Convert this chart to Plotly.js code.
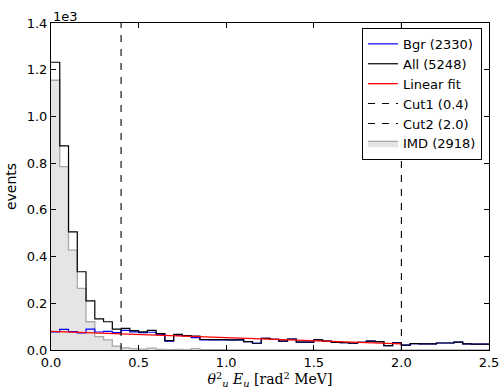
<!DOCTYPE html>
<html>
<head>
<meta charset="utf-8">
<script src="https://cdn.plot.ly/plotly-3.0.1.min.js"></script>
<style>html,body{margin:0;padding:0;background:#fff;}#chart{width:501px;height:391px;}</style>
</head>
<body>
<div id="chart"></div>
<script>
// Histogram settings (bin start and width, in x units)
const binStart = 0.0;
const binWidth = 0.05;

// Counts per bin (50 bins, 0.0 - 2.5)
const imdCounts = [1155, 785, 428, 264, 121, 57, 43, 17, 9, 6,
                   4, 8, 3, 2, 3, 2, 6, 2, 1, 1,
                   0, 0, 0, 0, 0, 0, 0, 0, 0, 0,
                   0, 0, 0, 0, 0, 0, 0, 0, 0, 0,
                   0, 0, 0, 0, 0, 0, 0, 0, 0, 0];
const bgrCounts = [78, 88, 79, 73, 89, 77, 80, 74, 84, 78,
                   74, 76, 67, 38, 64, 60, 53, 43, 43, 43,
                   43, 43, 36, 29, 50, 46, 38, 47, 34, 34,
                   43, 38, 33, 32, 29, 33, 38, 36, 19, 31,
                   21, 27, 26, 26, 30, 30, 34, 26, 25, 25];
const allCounts = [1232, 874, 506, 335, 210, 133, 121, 89, 93, 83,
                   78, 84, 70, 40, 67, 62, 59, 45, 44, 44,
                   43, 43, 36, 29, 50, 46, 38, 47, 34, 34,
                   43, 38, 33, 32, 29, 33, 38, 36, 19, 31,
                   21, 27, 26, 26, 30, 30, 34, 26, 25, 25];

// Linear fit end points
const fitX = [0.0, 2.0];
const fitY = [80, 26];

// Cuts
const cut1 = 0.4;
const cut2 = 2.0;

// Legend labels
const labels = {bgr: 'Bgr (2330)', all: 'All (5248)', fit: 'Linear fit',
                cut1: 'Cut1 (0.4)', cut2: 'Cut2 (2.0)', imd: 'IMD (2918)'};

// Axis ticks
const xTickVals = [0, 0.5, 1.0, 1.5, 2.0, 2.5];
const xTickText = ['0.0', '0.5', '1.0', '1.5', '2.0', '2.5'];
const yTickVals = [0, 200, 400, 600, 800, 1000, 1200, 1400];
const yTickText = ['0.0', '0.2', '0.4', '0.6', '0.8', '1.0', '1.2', '1.4'];

function edges(n) { const e = []; for (let i = 0; i <= n; i++) e.push(+(binStart + i * binWidth).toFixed(4)); return e; }
function stepY(c) { return c.concat([c[c.length - 1]]); }

const ex = edges(allCounts.length);
const yTop = 1400;

const traces = [
  {x: ex, y: stepY(imdCounts), type: 'scatter', mode: 'lines', line: {shape: 'hv', color: '#a8a8a8', width: 1.3},
   fill: 'tozeroy', fillcolor: '#e5e5e5', name: labels.imd, legendrank: 6},
  {x: ex, y: stepY(bgrCounts), type: 'scatter', mode: 'lines', line: {shape: 'hv', color: '#0000ff', width: 1.2},
   name: labels.bgr, legendrank: 1},
  {x: ex, y: stepY(allCounts), type: 'scatter', mode: 'lines', line: {shape: 'hv', color: '#000000', width: 1.2},
   name: labels.all, legendrank: 2},
  {x: fitX, y: fitY, type: 'scatter', mode: 'lines', line: {color: '#ff0000', width: 1.3},
   name: labels.fit, legendrank: 3},
  {x: [cut1, cut1], y: [0, yTop], type: 'scatter', mode: 'lines', line: {color: '#000000', width: 1.1, dash: '7px,7px'},
   name: labels.cut1, legendrank: 4},
  {x: [cut2, cut2], y: [0, yTop], type: 'scatter', mode: 'lines', line: {color: '#000000', width: 1.1, dash: '7px,7px'},
   name: labels.cut2, legendrank: 5}
];

const layout = {
  width: 501, height: 391,
  margin: {l: 51, r: 12, t: 23, b: 41, pad: 0},
  paper_bgcolor: '#ffffff', plot_bgcolor: '#ffffff',
  font: {family: 'DejaVu Sans', size: 13, color: '#000'},
  showlegend: true,
  legend: {x: 0.984, y: 0.985, xanchor: 'right', yanchor: 'top', bgcolor: '#ffffff',
           bordercolor: '#000000', borderwidth: 1, font: {family: 'DejaVu Sans', size: 13},
           tracegroupgap: 0, itemwidth: 30},
  xaxis: {range: [0, 2.5], tickvals: xTickVals, ticktext: xTickText, ticks: 'inside', ticklen: 5,
          tickcolor: '#000', showline: true, linecolor: '#000', linewidth: 1, mirror: 'ticks',
          showgrid: false, zeroline: false,
          title: {text: '<i>θ</i><sup>2</sup><sub><i>u</i></sub> <i>E</i><sub><i>u</i></sub> [rad<sup>2</sup> MeV]',
                  font: {family: 'DejaVu Serif', size: 14}, standoff: 5}},
  yaxis: {range: [0, 1400], tickvals: yTickVals, ticktext: yTickText, ticks: 'inside', ticklen: 5,
          tickcolor: '#000', showline: true, linecolor: '#000', linewidth: 1, mirror: 'ticks',
          showgrid: false, zeroline: false,
          title: {text: 'events', font: {family: 'DejaVu Sans', size: 14}, standoff: 6}},
  annotations: [{text: '1e3', xref: 'paper', yref: 'paper', x: 0, y: 1, xanchor: 'left', yanchor: 'bottom',
                 showarrow: false, font: {family: 'DejaVu Sans', size: 13}, yshift: -3}]
};

Plotly.newPlot('chart', traces, layout, {displayModeBar: false, staticPlot: true});
</script>
</body>
</html>
